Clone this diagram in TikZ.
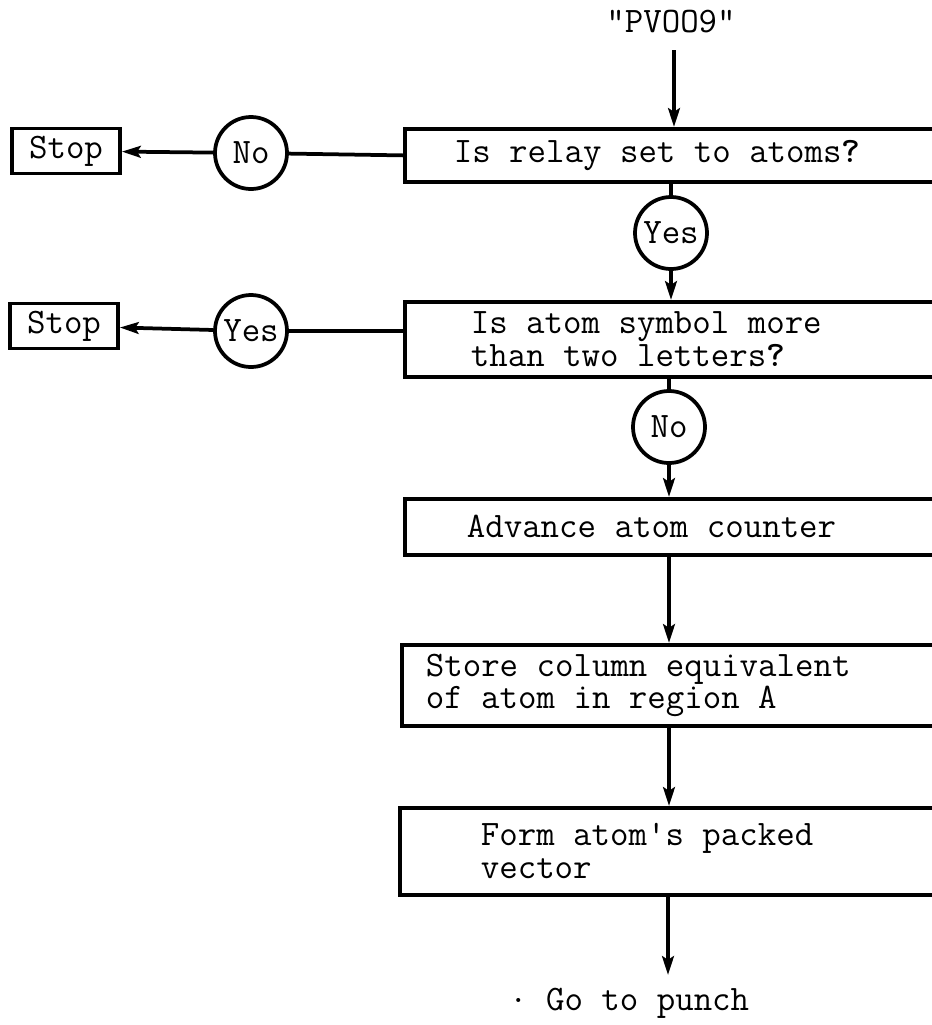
\documentclass[tikz,border=0pt]{standalone}
\usetikzlibrary{positioning, arrows.meta}

\tikzset{
    ink/.style={line width=3.2pt},
    flow/.style={ink, -{Stealth[length=16pt, width=10pt, inset=3pt]}},
    procbox/.style 2 args={ink, draw, rectangle, anchor=north west, align=flush left,
        text width=18cm, inner xsep=#1, minimum height=#2},
    dec/.style={ink, draw, circle, minimum size=2.16cm, inner sep=0pt},
    endbox/.style={ink, draw, rectangle, minimum width=3.24cm, minimum height=1.35cm, inner sep=0pt},
}

\begin{document}
\begin{tikzpicture}[x=0.03cm, y=-0.03cm, font=\ttfamily\fontsize{30.6pt}{28pt}\selectfont]
    \useasboundingbox (0,0) rectangle (932,1025);

    % Entry label
    \node (pv) at (671,22) {\textquotedbl PVOO9\textquotedbl};
    \coordinate (entry) at (674,50);

    % Process boxes, cut off at the right edge
    \node[procbox={1.47cm}{1.59cm}] (b1) at (403,127) {Is relay set to atoms\textbf{?}};
    \node[procbox={1.98cm}{2.25cm}] (b2) at (403,300) {Is atom symbol more\\than two letters\textbf{?}};
    \node[procbox={1.86cm}{1.68cm}] (b3) at (403,497) {Advance atom counter};
    \node[procbox={0.72cm}{2.43cm}] (b4) at (400,643) {Store column equivalent\\of atom in region A};
    \node[procbox={2.43cm}{2.61cm}] (b5) at (398,806) {Form atom\textquotesingle s packed\\vector};

    % Decision circles
    \node[dec] (n1) at (251,153) {No};
    \node[dec] (y1) at (671,233) {Yes};
    \node[dec] (y2) at (251,331) {Yes};
    \node[dec] (n2) at (669,427) {No};

    % Stop boxes
    \node[endbox] (stop1) at (66,151) {Stop};
    \node[endbox] (stop2) at (64,326) {Stop};

    % Exit
    \coordinate (exit) at (668,975);
    \node[anchor=west] (punch) at (505,1003) {\raisebox{.5ex}{.} Go to punch};

    % Connectors
    \draw[flow] (entry) -- (entry |- b1.north);
    \draw[ink] (b1.west) -- (n1);
    \draw[flow] (n1) -- (stop1);
    \draw[ink] (b1.south -| y1) -- (y1);
    \draw[flow] (y1) -- (y1 |- b2.north);
    \draw[ink] (b2.west |- y2) -- (y2);
    \draw[flow] (y2) -- (stop2);
    \draw[ink] (b2.south -| n2) -- (n2);
    \draw[flow] (n2) -- (n2 |- b3.north);
    \foreach \a/\b in {b3/b4, b4/b5}{
        \draw[flow] (\a.south -| n2) -- (\b.north -| n2);
    }
    \draw[flow] (b5.south -| exit) -- (exit);

\end{tikzpicture}
\end{document}
